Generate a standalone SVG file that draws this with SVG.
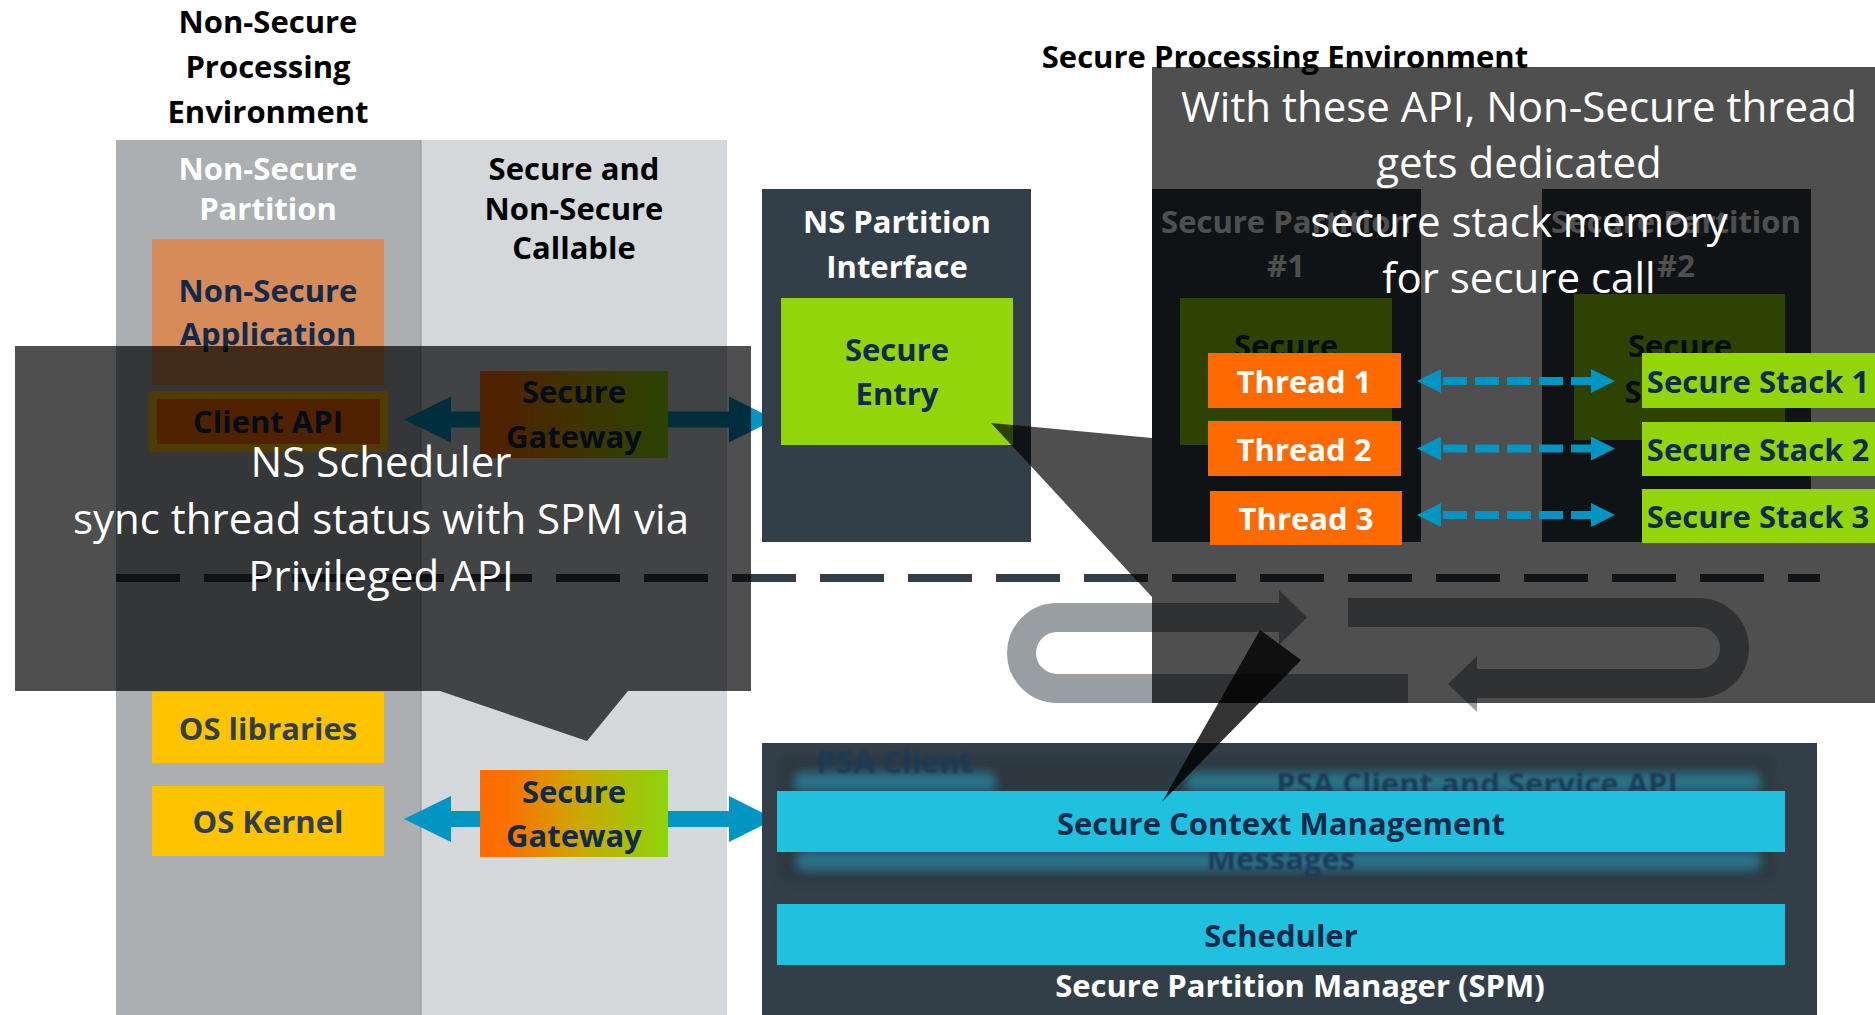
<svg xmlns="http://www.w3.org/2000/svg" width="1875" height="1015" viewBox="0 0 1875 1015">
  <style>
    text { font-family: "Open Sans", "Liberation Sans", sans-serif; text-anchor: middle; }
    .b { font-weight: 700; font-size: 31px; }
    .r { font-weight: 400; font-size: 42px; fill: #ffffff; }
    .blk { fill: #000000; }
    .wht { fill: #ffffff; }
    .nav { fill: #0f2a4a; }
    .sl { fill: #333f48; }
    .slate { fill: #333f48; }
    .green { fill: #92d50a; }
    .orange { fill: #ff6a00; }
    .yellow { fill: #ffc400; }
    .cyan { fill: #20c1de; }
    .bigArrow { fill: #0095c2; }
    .dashArrow { stroke: #0095c2; stroke-width: 8; stroke-dasharray: 24 8; stroke-dashoffset: 30; fill: none; }
    .loop { fill: none; stroke: #999ea3; stroke-width: 29; }
    .loopHead { fill: #999ea3; }
    .shade { fill: #000000; fill-opacity: 0.69; }
    .ghostBar { fill: #2b7187; }
    .ghostTxt { fill: #1c3b57; }
  </style>
  <defs>
    <linearGradient id="gw" x1="0" y1="0" x2="1" y2="0">
      <stop offset="0" stop-color="#ff6d00"/>
      <stop offset="0.15" stop-color="#fa7000"/>
      <stop offset="0.5" stop-color="#d0a400"/>
      <stop offset="1" stop-color="#8cd50c"/>
    </linearGradient>
    <marker id="head" viewBox="0 0 24 24" refX="0" refY="12" markerWidth="24" markerHeight="24" markerUnits="userSpaceOnUse" orient="auto-start-reverse">
      <path d="M0,0 L24,12 L0,24 Z" fill="#0095c2"/>
    </marker>
    <filter id="soft" x="-20%" y="-100%" width="140%" height="300%">
      <feGaussianBlur stdDeviation="5"/>
    </filter>
    <filter id="softTxt" x="-10%" y="-50%" width="120%" height="200%">
      <feGaussianBlur stdDeviation="1"/>
    </filter>
  </defs>

  <!-- Non-secure processing environment columns -->
  <g id="ns-env">
    <rect x="116" y="140" width="305" height="875" fill="#abafb2"/>
    <rect x="421" y="140" width="306" height="875" fill="#d5d8db"/>
    <line x1="421" y1="140" x2="421" y2="1015" stroke="#8e9295" stroke-width="1"/>
    <text class="b blk" x="268" y="33">Non-Secure</text>
    <text class="b blk" x="268" y="78">Processing</text>
    <text class="b blk" x="268" y="123">Environment</text>
    <text class="b wht" x="268" y="180">Non-Secure</text>
    <text class="b wht" x="268" y="220">Partition</text>
    <text class="b blk" x="574" y="180">Secure and</text>
    <text class="b blk" x="574" y="220">Non-Secure</text>
    <text class="b blk" x="574" y="259">Callable</text>
  </g>

  <g id="ns-application">
    <rect x="152" y="239" width="232" height="146" fill="#d68b59"/>
    <text class="b nav" x="268" y="302">Non-Secure</text>
    <text class="b nav" x="268" y="345">Application</text>
  </g>

  <g id="client-api">
    <rect x="153" y="395" width="231" height="53" class="orange" stroke="#ffc000" stroke-width="8"/>
    <text class="b nav" x="268" y="433">Client API</text>
  </g>

  <g id="os-libraries">
    <rect x="152" y="692" width="232" height="71" class="yellow"/>
    <text class="b sl" x="268" y="740">OS libraries</text>
  </g>

  <g id="os-kernel">
    <rect x="152" y="786" width="232" height="70" class="yellow"/>
    <text class="b sl" x="268" y="833">OS Kernel</text>
  </g>

  <!-- connectors drawn beneath the boxes and callouts -->
  <g id="connectors">
    <polygon class="bigArrow" points="404,419.5 451,396.5 451,411.5 729,411.5 729,396.5 775,419.5 729,442.5 729,427.5 451,427.5 451,442.5"/>
    <polygon class="bigArrow" points="404,819 451,796 451,811 729,811 729,796 775,819 729,842 729,827 451,827 451,842"/>
    <!-- boundary between secure and non-secure worlds -->
    <line x1="116" y1="578" x2="1820" y2="578" stroke="#333f48" stroke-width="8" stroke-dasharray="64 24"/>
    <!-- call / return loop -->
    <path class="loop" d="M1408,688.5 H1057 A35.5,35.5 0 0 1 1057,617.5 H1280"/>
    <polygon class="loopHead" points="1279,590 1307,617.5 1279,645"/>
    <path class="loop" d="M1348,612.5 H1699 A35.5,35.5 0 0 1 1699,683.5 H1476"/>
    <polygon class="loopHead" points="1477,656 1448,684 1477,712"/>
  </g>

  <g id="secure-gateway-1">
    <rect x="480" y="371" width="188" height="87" fill="url(#gw)"/>
    <text class="b nav" x="574" y="403">Secure</text>
    <text class="b nav" x="574" y="448">Gateway</text>
  </g>

  <g id="secure-gateway-2">
    <rect x="480" y="770" width="188" height="87" fill="url(#gw)"/>
    <text class="b nav" x="574" y="803">Secure</text>
    <text class="b nav" x="574" y="847">Gateway</text>
  </g>

  <g id="ns-partition-interface">
    <rect x="762" y="189" width="269" height="353" class="slate"/>
    <text class="b wht" x="897" y="233">NS Partition</text>
    <text class="b wht" x="897" y="278">Interface</text>
  </g>

  <g id="secure-entry">
    <rect x="781" y="298" width="232" height="147" class="green"/>
    <text class="b nav" x="897" y="361">Secure</text>
    <text class="b nav" x="897" y="405">Entry</text>
  </g>

  <text class="b blk" x="1285" y="68">Secure Processing Environment</text>

  <g id="secure-partition-1">
    <rect x="1152" y="189" width="269" height="353" class="slate"/>
    <text class="b wht" x="1286" y="233">Secure Partition</text>
    <text class="b wht" x="1286" y="277">#1</text>
    <rect x="1180" y="298" width="212" height="147" class="green"/>
    <text class="b nav" x="1286" y="357">Secure</text>
    <text class="b nav" x="1286" y="403">Service</text>
  </g>

  <g id="secure-partition-2">
    <rect x="1542" y="189" width="269" height="353" class="slate"/>
    <text class="b wht" x="1676" y="233">Secure Partition</text>
    <text class="b wht" x="1676" y="277">#2</text>
    <rect x="1574" y="294" width="211" height="146" class="green"/>
    <text class="b nav" x="1680" y="357">Secure</text>
    <text class="b nav" x="1680" y="403">Service</text>
  </g>

  <g id="spm">
    <rect x="762" y="743" width="1055" height="272" class="slate"/>
    <rect x="778" y="756" width="997" height="126" rx="10" fill="#2a343c" opacity="0.6" filter="url(#soft)"/>
    <rect x="794" y="772" width="202" height="20" rx="8" class="ghostBar" filter="url(#soft)"/>
    <rect x="1186" y="772" width="575" height="20" rx="8" class="ghostBar" filter="url(#soft)"/>
    <rect x="796" y="851" width="965" height="20" rx="8" class="ghostBar" filter="url(#soft)"/>
    <text class="b ghostTxt" x="895" y="773" filter="url(#softTxt)">PSA Client</text>
    <text class="b ghostTxt" x="1477" y="795" filter="url(#softTxt)">PSA Client and Service API</text>
    <text class="b ghostTxt" x="1281" y="870" filter="url(#softTxt)">Messages</text>
    <rect x="777" y="791" width="1008" height="61" class="cyan"/>
    <text class="b nav" x="1281" y="835">Secure Context Management</text>
    <rect x="777" y="904" width="1008" height="61" class="cyan"/>
    <text class="b nav" x="1281" y="947">Scheduler</text>
    <text class="b wht" x="1300" y="997">Secure Partition Manager (SPM)</text>
  </g>

  <!-- callout: non-secure scheduler -->
  <g id="callout-ns-scheduler">
    <path class="shade" d="M15,346 H751 V691 H628 L587,741 L440,691 H15 Z"/>
    <text class="r" x="381" y="477">NS Scheduler</text>
    <text class="r" x="381" y="534">sync thread status with SPM via</text>
    <text class="r" x="381" y="591">Privileged API</text>
  </g>

  <!-- callout: dedicated secure stacks -->
  <g id="callout-secure-stack">
    <path class="shade" d="M1152,67 H1875 V703 H1152 V597 L991,423 L1152,438 Z"/>
    <text class="r" x="1519" y="122">With these API, Non-Secure thread</text>
    <text class="r" x="1519" y="178">gets dedicated</text>
    <text class="r" x="1519" y="237">secure stack memory</text>
    <text class="r" x="1519" y="293">for secure call</text>
  </g>

  <g id="thread-1">
    <rect x="1208" y="353" width="193" height="55" class="orange"/>
    <text class="b wht" x="1304" y="393">Thread 1</text>
  </g>
  <g id="thread-2">
    <rect x="1208" y="421" width="193" height="55" class="orange"/>
    <text class="b wht" x="1304" y="461">Thread 2</text>
  </g>
  <g id="thread-3">
    <rect x="1210" y="491" width="192" height="54" class="orange"/>
    <text class="b wht" x="1306" y="530">Thread 3</text>
  </g>

  <g id="secure-stack-1">
    <rect x="1642" y="353" width="233" height="55" class="green"/>
    <text class="b nav" x="1758" y="393">Secure Stack 1</text>
  </g>
  <g id="secure-stack-2">
    <rect x="1642" y="422" width="233" height="54" class="green"/>
    <text class="b nav" x="1758" y="461">Secure Stack 2</text>
  </g>
  <g id="secure-stack-3">
    <rect x="1642" y="489" width="233" height="54" class="green"/>
    <text class="b nav" x="1758" y="528">Secure Stack 3</text>
  </g>

  <!-- thread to stack links, drawn above the callout -->
  <g id="connectors-stack">
    <line class="dashArrow" x1="1441" y1="381" x2="1591" y2="381" marker-start="url(#head)" marker-end="url(#head)"/>
    <line class="dashArrow" x1="1441" y1="448.5" x2="1591" y2="448.5" marker-start="url(#head)" marker-end="url(#head)"/>
    <line class="dashArrow" x1="1441" y1="515" x2="1591" y2="515" marker-start="url(#head)" marker-end="url(#head)"/>
  </g>

  <!-- pointer to secure context management -->
  <polygon points="1260,630 1301,660 1162,802" fill="#000000" fill-opacity="0.8"/>
</svg>
